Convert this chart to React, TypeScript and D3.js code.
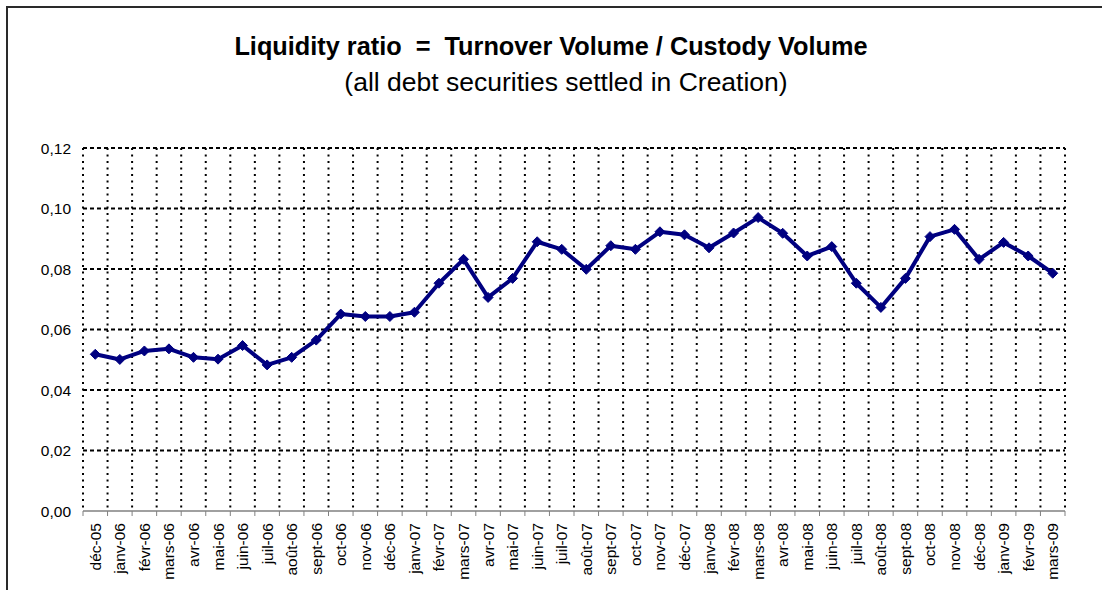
import React from "react";
import * as d3 from "d3";

const categories: string[] = [
  "déc-05", "janv-06", "févr-06", "mars-06", "avr-06", "mai-06", "juin-06", "juil-06", "août-06", "sept-06", "oct-06", "nov-06",
  "déc-06", "janv-07", "févr-07", "mars-07", "avr-07", "mai-07", "juin-07", "juil-07", "août-07", "sept-07", "oct-07", "nov-07",
  "déc-07", "janv-08", "févr-08", "mars-08", "avr-08", "mai-08", "juin-08", "juil-08", "août-08", "sept-08", "oct-08", "nov-08",
  "déc-08", "janv-09", "févr-09", "mars-09",
];

const liquidityRatio: number[] = [
  0.0518, 0.0501, 0.0529, 0.0536, 0.0508, 0.0502, 0.0547, 0.0483, 0.0508, 0.0565, 0.0651, 0.0643,
  0.0643, 0.0657, 0.0753, 0.0832, 0.0706, 0.0769, 0.0890, 0.0865, 0.0799, 0.0877, 0.0865, 0.0923,
  0.0913, 0.0870, 0.0919, 0.0970, 0.0918, 0.0843, 0.0874, 0.0753, 0.0673, 0.0769, 0.0907, 0.0931,
  0.0832, 0.0888, 0.0843, 0.0786,
];

const yTicks: number[] = [0, 0.02, 0.04, 0.06, 0.08, 0.1, 0.12];

const titleText = "Liquidity ratio  =  Turnover Volume / Custody Volume";
const subtitleText = "(all debt securities settled in Creation)";

const W = 1102;
const H = 590;
const plot = { left: 83, right: 1065, top: 148, bottom: 511 };

export default function App() {
  const x = d3
    .scaleBand<string>()
    .domain(categories)
    .range([plot.left, plot.right])
    .paddingInner(0)
    .paddingOuter(0);
  const y = d3.scaleLinear().domain([0, 0.12]).range([plot.bottom, plot.top]);
  const bw = x.bandwidth();
  const cx = (c: string) => (x(c) as number) + bw / 2;

  const line = d3
    .line<number>()
    .x((_, i) => cx(categories[i]))
    .y((d) => y(d));

  const fmt = (v: number) => v.toFixed(2).replace(".", ",");
  const boundaries = categories.map((c) => x(c) as number).concat([plot.right]);
  const font = "Arial, 'Liberation Sans', Helvetica, sans-serif";
  const tickFs = 15.5;

  return (
    <svg
      width={W}
      height={H}
      style={{ position: "absolute", left: 0, top: 0, background: "#fff" }}
      fontFamily={font}
    >
      <rect x={0} y={0} width={W} height={H} fill="#fff" />
      <rect x={7} y={7} width={W + 50} height={H + 50} fill="none" stroke="#2a2a2a" strokeWidth={2} />

      <text x={551} y={55} textAnchor="middle" fontSize={25.3} fontWeight="bold" fill="#000" style={{ whiteSpace: "pre" }}>
        {titleText}
      </text>
      <text x={566} y={91} textAnchor="middle" fontSize={26.5} fill="#000">
        {subtitleText}
      </text>

      {/* vertical dotted gridlines */}
      {boundaries.map((bx, i) => (
        <line
          key={"v" + i}
          x1={bx}
          x2={bx}
          y1={plot.top}
          y2={plot.bottom}
          stroke="#000"
          strokeWidth={2}
          strokeDasharray="2,4.5"
        />
      ))}
      {/* horizontal dashed gridlines */}
      {yTicks.filter((t) => t > 0).map((t) => (
        <line
          key={"h" + t}
          x1={plot.left}
          x2={plot.right}
          y1={y(t)}
          y2={y(t)}
          stroke="#000"
          strokeWidth={2}
          strokeDasharray="4,3"
        />
      ))}

      {/* x axis */}
      <line x1={plot.left} x2={plot.right} y1={plot.bottom} y2={plot.bottom} stroke="#808080" strokeWidth={1.5} />
      {boundaries.map((bx, i) => (
        <line key={"t" + i} x1={bx} x2={bx} y1={plot.bottom} y2={plot.bottom + 5} stroke="#808080" strokeWidth={1} />
      ))}
      {/* y tick labels */}
      {yTicks.map((t) => (
        <text key={"yl" + t} x={71} y={y(t) + 5.5} textAnchor="end" fontSize={tickFs} fill="#000">
          {fmt(t)}
        </text>
      ))}
      {/* x tick labels */}
      {categories.map((c) => (
        <text
          key={"xl" + c}
          transform={`translate(${cx(c) + 5.5},${plot.bottom + 12}) rotate(-90)`}
          textAnchor="end"
          fontSize={tickFs}
          fill="#000"
        >
          {c}
        </text>
      ))}

      {/* series */}
      <path d={line(liquidityRatio) || ""} fill="none" stroke="#000080" strokeWidth={4} strokeLinejoin="round" />
      {liquidityRatio.map((v, i) => {
        const px = cx(categories[i]);
        const py = y(v);
        const s = 5;
        return (
          <path
            key={"m" + i}
            d={`M${px},${py - s}L${px + s},${py}L${px},${py + s}L${px - s},${py}Z`}
            fill="#000080"
            stroke="#000080"
            strokeWidth={1}
          />
        );
      })}
    </svg>
  );
}
